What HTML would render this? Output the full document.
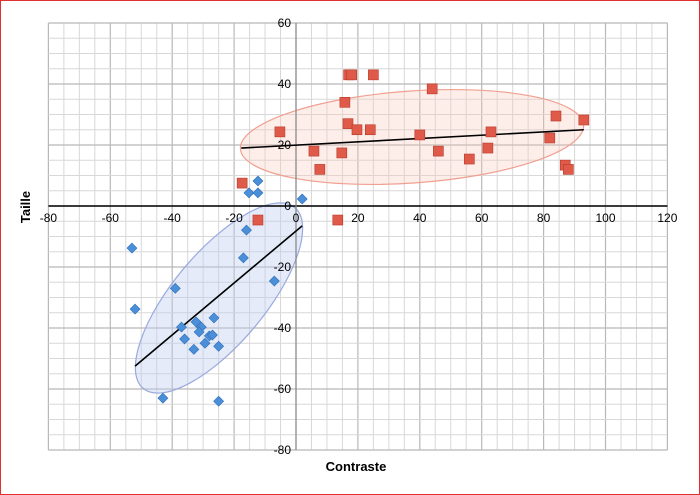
<!DOCTYPE html>
<html><head><meta charset="utf-8"><style>
body{margin:0;background:#fff}
svg{display:block;font-family:"Liberation Sans",sans-serif}
</style></head><body>
<svg id="c" width="700" height="495">
<rect x="0.5" y="0.5" width="699" height="494" fill="#fff" stroke="#e03030"/>
<g id="grid"></g>
<ellipse cx="412" cy="137" rx="172" ry="46" transform="rotate(-4 412 137)" fill="rgba(250,200,185,0.3)" stroke="#f0a090" stroke-width="1.2"/>
<ellipse cx="219" cy="298" rx="118" ry="46" transform="rotate(-50 219 298)" fill="rgba(190,205,240,0.4)" stroke="#9aaade" stroke-width="1.2"/>
<g id="axes"></g>
<g id="marks"></g>
<text x="30" y="207" transform="rotate(-90 30 207)" text-anchor="middle" font-size="13" font-weight="bold">Taille</text>
<text x="356" y="471" text-anchor="middle" font-size="13" font-weight="bold">Contraste</text>
</svg>
<script>
const xTicks=[-80,-60,-40,-20,0,20,40,60,80,100,120];
const yTicks=[60,40,20,0,-20,-40,-60,-80];
const redX=[-12.3,-17.4,-5.2,7.7,5.8,14.8,13.5,15.8,17,18,25,16.8,19.7,24,40,44,46,56,62,63,82,84,87,88,93];
const redY=[-4.6,7.5,24.3,12,18,17.4,-4.6,34,43,43,43,27,25,25,23.3,38.4,18,15.4,19,24.3,22.3,29.5,13.4,12,28.2];
const blueX=[2,-12.3,-15.2,-12.3,-16,-17,-7,-53,-39,-52,-37,-32.3,-30.6,-31.3,-26.5,-36,-33,-29.4,-28,-27,-25,-43,-25];
const blueY=[2.3,8.2,4.3,4.3,-7.9,-17,-24.6,-13.8,-27,-33.8,-39.7,-38,-39.7,-41.3,-36.7,-43.6,-47,-45,-42.6,-42.3,-46,-63,-64];
const redTrend=[[-17.7,19],[93,25]];
const blueTrend=[[-52,-52.5],[2,-6.5]];
const X=v=>296+v*3.095, Y=v=>206-v*3.05;
const NS='http://www.w3.org/2000/svg';
function mk(p,t,a){const e=document.createElementNS(NS,t);for(const k in a)e.setAttribute(k,a[k]);p.appendChild(e);return e;}
const grid=document.getElementById('grid'),axes=document.getElementById('axes'),marks=document.getElementById('marks');
for(let v=-80;v<=120;v+=5){const l=mk(grid,'line',{x1:X(v),x2:X(v),y1:Y(60),y2:Y(-80),stroke:v%20==0?'#b8b8b8':'#d8d8d8','stroke-width':v%20==0?1.2:1});
}
for(let v=-80;v<=60;v+=5){const l=mk(grid,'line',{x1:X(-80),x2:X(120),y1:Y(v),y2:Y(v),stroke:v%20==0?'#b8b8b8':'#d8d8d8','stroke-width':v%20==0?1.2:1});
}
let a=mk(axes,'line',{x1:X(-80),x2:X(120),y1:Y(0),y2:Y(0),stroke:'#000','stroke-width':1.6});

a=mk(axes,'line',{x1:X(0),x2:X(0),y1:Y(60),y2:Y(-80),stroke:'#888','stroke-width':1.2});

xTicks.forEach(v=>{const t=mk(axes,'text',{x:X(v),y:Y(0)+16,'text-anchor':'middle','font-size':12});t.textContent=v;
});
yTicks.forEach(v=>{const t=mk(axes,'text',{x:X(0)-5,y:Y(v)+4,'text-anchor':'end','font-size':12});t.textContent=v;
});
[[redTrend,'red-trendline'],[blueTrend,'blue-trendline']].forEach(([d,n])=>{const l=mk(marks,'line',{x1:X(d[0][0]),y1:Y(d[0][1]),x2:X(d[1][0]),y2:Y(d[1][1]),stroke:'#000','stroke-width':1.6});
});
blueX.forEach((v,i)=>{const cx=X(v),cy=Y(blueY[i]);const p=mk(marks,'polygon',{points:`${cx},${cy-5} ${cx+5},${cy} ${cx},${cy+5} ${cx-5},${cy}`,fill:'#4a8fd8',stroke:'#2f6fb8','stroke-width':0.6});
});
redX.forEach((v,i)=>{const cx=X(v),cy=Y(redY[i]);const p=mk(marks,'rect',{x:cx-5,y:cy-5,width:10,height:10,fill:'#e05a4a',stroke:'#b83828','stroke-width':0.6});
});
</script>
</body></html>
